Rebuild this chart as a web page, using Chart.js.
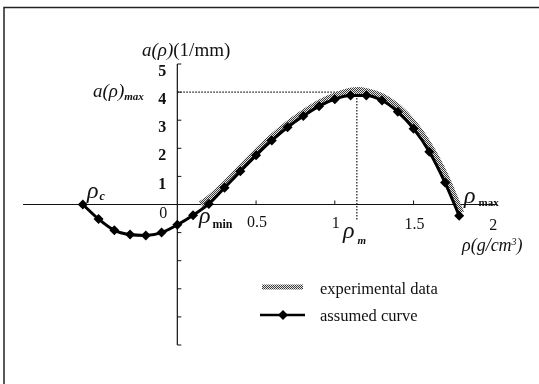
<!DOCTYPE html>
<html>
<head>
<meta charset="utf-8">
<script src="https://cdn.jsdelivr.net/npm/chart.js@4/dist/chart.umd.min.js"></script>
<style>
  html, body { margin: 0; padding: 0; background: #fff; }
  #wrap { width: 539px; height: 384px; position: relative; }
</style>
</head>
<body>
<div id="wrap"><canvas id="c" width="539" height="384"></canvas></div>
<script>
// Density rho (g/cm^3) and absorption a(rho) (1/mm)
const expRho = [0.15, 0.2, 0.3, 0.4, 0.5, 0.6, 0.7, 0.8, 0.9, 1.0, 1.1, 1.15, 1.2, 1.3, 1.4, 1.5, 1.6, 1.7, 1.77, 1.8];
const expA   = [0.0, 0.2, 0.7, 1.28, 1.85, 2.38, 2.85, 3.25, 3.6, 3.86, 4.03, 4.06, 4.02, 3.84, 3.46, 2.88, 2.08, 1.02, 0.1, -0.3];

const fitRho = [-0.6, -0.5, -0.4, -0.3, -0.2, -0.1, 0.0, 0.1, 0.2, 0.3, 0.4, 0.5, 0.6, 0.7, 0.8, 0.9, 1.0, 1.1, 1.2, 1.3, 1.4, 1.5, 1.6, 1.7, 1.79];
const fitA   = [0.0, -0.52, -0.92, -1.07, -1.1, -1.0, -0.72, -0.38, 0.02, 0.6, 1.18, 1.75, 2.28, 2.75, 3.15, 3.5, 3.75, 3.88, 3.88, 3.7, 3.3, 2.7, 1.88, 0.78, -0.4];

const rhoTicks = [0.5, 1, 1.5, 2];
const rhoTickLabels = ['0.5', '1', '1.5', '2'];
const aTicks = [1, 2, 3, 4, 5];
const aTickLabels = ['1', '2', '3', '4', '5'];
const aMax = 4;
const rhoM = 1.14;
const legendLabels = ['experimental data', 'assumed curve'];

const SERIF = '"Liberation Serif", "DejaVu Serif", serif';

// stippled texture for the measured band
function stipple() {
  const p = document.createElement('canvas');
  p.width = 4; p.height = 4;
  const g = p.getContext('2d');
  g.fillStyle = '#e6e6e6';
  g.fillRect(0, 0, 4, 4);
  g.fillStyle = '#3a3a3a';
  for (let y = 0; y < 4; y++) for (let x = 0; x < 4; x++) if ((x + y) % 2 === 0) g.fillRect(x, y, 1, 1);
  return document.getElementById('c').getContext('2d').createPattern(p, 'repeat');
}
const band = stipple();

// write a run of text pieces (main text + subscripts) starting at x
function runs(ctx, x, y, parts) {
  ctx.textBaseline = 'alphabetic';
  ctx.textAlign = 'left';
  for (const p of parts) {
    ctx.font = p.f;
    ctx.fillText(p.t, x, y + (p.dy || 0));
    x += ctx.measureText(p.t).width + (p.gap || 0);
  }
}

const decor = {
  id: 'decor',
  beforeDatasetsDraw(chart) {
    const ctx = chart.ctx;
    const xs = chart.scales.x, ys = chart.scales.y;
    const x0 = xs.getPixelForValue(0), y0 = ys.getPixelForValue(0);
    ctx.save();
    // frame (top and left edges)
    ctx.strokeStyle = '#222';
    ctx.lineWidth = 1.5;
    ctx.beginPath();
    ctx.moveTo(4, 384); ctx.lineTo(4, 7.5); ctx.lineTo(539, 7.5);
    ctx.stroke();

    // axes crossing at the origin
    ctx.strokeStyle = '#111';
    ctx.lineWidth = 1.2;
    ctx.beginPath();
    ctx.moveTo(xs.left, y0); ctx.lineTo(xs.right, y0);
    ctx.moveTo(x0, ys.top); ctx.lineTo(x0, ys.bottom);
    ctx.stroke();

    // tick marks
    ctx.lineWidth = 1;
    ctx.beginPath();
    for (const v of [0.5, 1, 1.5]) {
      const px = xs.getPixelForValue(v);
      ctx.moveTo(px, y0); ctx.lineTo(px, y0 - 4);
    }
    for (let v = -5; v <= 5; v++) {
      if (v === 0) continue;
      const py = ys.getPixelForValue(v);
      ctx.moveTo(x0, py); ctx.lineTo(x0 + 4, py);
    }
    ctx.stroke();

    // dotted guides to the maximum
    ctx.setLineDash([1.5, 1.5]);
    ctx.lineWidth = 1.2;
    ctx.beginPath();
    const pm = xs.getPixelForValue(rhoM), pa = ys.getPixelForValue(aMax);
    ctx.moveTo(x0, pa); ctx.lineTo(pm, pa);
    ctx.moveTo(pm, pa); ctx.lineTo(pm, ys.getPixelForValue(-0.55));
    ctx.stroke();
    ctx.setLineDash([]);
    ctx.restore();
  },
  afterDatasetsDraw(chart) {
    const ctx = chart.ctx;
    const xs = chart.scales.x, ys = chart.scales.y;
    const x0 = xs.getPixelForValue(0), y0 = ys.getPixelForValue(0);
    ctx.save();
    ctx.fillStyle = '#111';

    // y tick labels
    ctx.font = 'bold 16px ' + SERIF;
    ctx.textAlign = 'center';
    ctx.textBaseline = 'middle';
    aTicks.forEach((v, i) => ctx.fillText(aTickLabels[i], x0 - 15, ys.getPixelForValue(v) + 8));
    // x tick labels
    ctx.font = '16px ' + SERIF;
    rhoTicks.forEach((v, i) => ctx.fillText(rhoTickLabels[i], xs.getPixelForValue(v) + 1, y0 + 17 + v * 2));
    ctx.fillText('0', x0 - 14, y0 + 9);

    // axis titles
    const it = 'italic 19px ' + SERIF, up = '19px ' + SERIF;
    runs(ctx, 142, 56, [{t: 'a(ρ)', f: it}, {t: '(1/mm)', f: up}]);
    runs(ctx, 93, 97, [{t: 'a(ρ)', f: it}, {t: 'max', f: 'italic bold 11px ' + SERIF, dy: 3}]);
    runs(ctx, 462, 251, [{t: 'ρ(g/cm', f: 'italic 18px ' + SERIF}, {t: '3', f: 'italic 10px ' + SERIF, dy: -6}, {t: ')', f: 'italic 18px ' + SERIF}]);

    // characteristic densities
    const rh = 'italic 24px ' + SERIF;
    runs(ctx, 87, 198, [{t: 'ρ', f: rh, gap: 1}, {t: 'c', f: 'italic bold 12px ' + SERIF, dy: 2}]);
    runs(ctx, 199, 223, [{t: 'ρ', f: rh, gap: 2}, {t: 'min', f: 'bold 12px ' + SERIF, dy: 5}]);
    runs(ctx, 343, 238, [{t: 'ρ', f: rh, gap: 3}, {t: 'm', f: 'italic bold 11px ' + SERIF, dy: 6}]);
    runs(ctx, 464, 203, [{t: 'ρ', f: rh, gap: 3}, {t: 'max', f: 'bold 11px ' + SERIF, dy: 3}]);

    // legend
    ctx.lineCap = 'butt';
    ctx.strokeStyle = band;
    ctx.lineWidth = 5;
    ctx.beginPath(); ctx.moveTo(262, 287); ctx.lineTo(303, 287); ctx.stroke();
    ctx.strokeStyle = '#000';
    ctx.lineWidth = 2.5;
    ctx.beginPath(); ctx.moveTo(260, 315); ctx.lineTo(305, 315); ctx.stroke();
    ctx.beginPath();
    ctx.moveTo(283, 310); ctx.lineTo(288, 315); ctx.lineTo(283, 320); ctx.lineTo(278, 315); ctx.closePath();
    ctx.fillStyle = '#000'; ctx.fill();
    ctx.fillStyle = '#111';
    ctx.font = '16.5px ' + SERIF;
    ctx.textAlign = 'left';
    ctx.textBaseline = 'middle';
    ctx.fillText(legendLabels[0], 320, 290);
    ctx.fillText(legendLabels[1], 320, 317);
    ctx.restore();
  }
};

const toPts = (xs, ys) => xs.map((x, i) => ({x, y: ys[i]}));

new Chart(document.getElementById('c'), {
  type: 'scatter',
  data: {
    datasets: [
      {
        label: legendLabels[1],
        data: toPts(fitRho, fitA),
        showLine: true,
        borderColor: '#000',
        borderWidth: 3,
        pointStyle: 'rectRot',
        pointRadius: 5,
        pointBackgroundColor: '#000',
        pointBorderColor: '#000',
        pointBorderWidth: 0,
        cubicInterpolationMode: 'monotone',
        order: 0
      },
      {
        label: legendLabels[0],
        data: toPts(expRho, expA),
        showLine: true,
        borderColor: band,
        borderWidth: 7,
        pointRadius: 0,
        cubicInterpolationMode: 'monotone',
        order: 1
      }
    ]
  },
  options: {
    responsive: false,
    animation: false,
    devicePixelRatio: 1,
    layout: { padding: { left: 23, right: 42, top: 64, bottom: 39 } },
    plugins: { legend: { display: false }, tooltip: { enabled: false } },
    scales: {
      x: { type: 'linear', min: -0.98, max: 2.03, display: false },
      y: { type: 'linear', min: -5, max: 5, display: false }
    }
  },
  plugins: [decor]
});
</script>
</body>
</html>
